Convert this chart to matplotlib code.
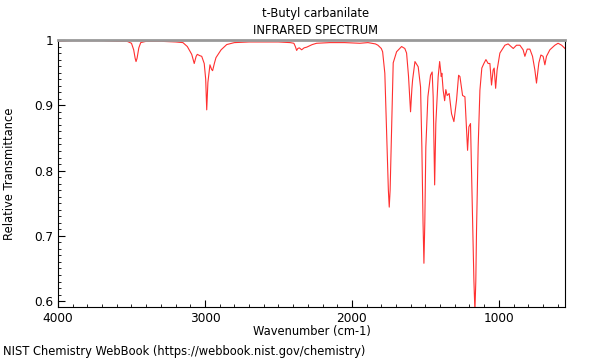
#!/usr/bin/env python3
"""IR spectrum of t-Butyl carbanilate, NIST WebBook style."""
import matplotlib
matplotlib.use("Agg")
import matplotlib.pyplot as plt
from matplotlib.ticker import MultipleLocator, FormatStrFormatter

wavenumber = [
    4000, 3900, 3800, 3700, 3600, 3530, 3500, 3485, 3475, 3469, 3462, 3450, 3437,
    3400, 3300, 3200, 3150, 3120, 3090, 3073, 3060, 3052, 3035, 3022, 3005, 2995,
    2988, 2980, 2966, 2955, 2948, 2935, 2925, 2890, 2852, 2800, 2700, 2600, 2500,
    2420, 2395, 2385, 2376, 2368, 2358, 2342, 2325, 2308, 2270, 2240, 2150, 2050,
    1946, 1891, 1840, 1823, 1800, 1791, 1776, 1764, 1752, 1746, 1740, 1730, 1719,
    1696, 1662, 1640, 1628, 1615, 1601, 1592, 1587, 1571, 1549, 1533, 1524, 1516,
    1510, 1504, 1497, 1483, 1465, 1454, 1447, 1437, 1429, 1413, 1403, 1392, 1388,
    1379, 1369, 1361, 1352, 1338, 1322, 1306, 1288, 1274, 1265, 1247, 1231, 1220,
    1213, 1204, 1193, 1182, 1170, 1163, 1157, 1152, 1141, 1129, 1116, 1102, 1088,
    1073, 1061, 1050, 1039, 1032, 1022, 1012, 993, 959, 937, 902, 880, 857, 835,
    823, 807, 789, 771, 755, 744, 728, 714, 699, 687, 676, 653, 619, 597, 573, 550,
]
transmittance = [
    0.998, 0.999, 0.999, 0.999, 0.998, 0.998, 0.995, 0.985, 0.972, 0.967, 0.972, 0.988, 0.996,
    0.998, 0.998, 0.997, 0.996, 0.990, 0.978, 0.964, 0.975, 0.978, 0.976, 0.975, 0.964, 0.940,
    0.893, 0.935, 0.962, 0.955, 0.953, 0.965, 0.973, 0.985, 0.993, 0.996, 0.997, 0.997, 0.997,
    0.996, 0.995, 0.990, 0.984, 0.987, 0.988, 0.985, 0.988, 0.989, 0.993, 0.995, 0.996, 0.996,
    0.995, 0.996, 0.994, 0.992, 0.987, 0.982, 0.949, 0.862, 0.770, 0.744, 0.770, 0.862, 0.965,
    0.982, 0.990, 0.987, 0.980, 0.945, 0.890, 0.925, 0.939, 0.967, 0.959, 0.928, 0.836, 0.720,
    0.658, 0.720, 0.836, 0.913, 0.946, 0.951, 0.913, 0.778, 0.872, 0.944, 0.967, 0.944, 0.949,
    0.923, 0.907, 0.924, 0.915, 0.918, 0.887, 0.875, 0.908, 0.946, 0.944, 0.915, 0.913, 0.862,
    0.831, 0.867, 0.872, 0.760, 0.632, 0.585, 0.630, 0.709, 0.836, 0.923, 0.957, 0.964, 0.970,
    0.964, 0.964, 0.931, 0.954, 0.957, 0.926, 0.954, 0.980, 0.992, 0.994, 0.987, 0.992, 0.992, 0.985,
    0.975, 0.986, 0.986, 0.975, 0.954, 0.934, 0.965, 0.977, 0.975, 0.962, 0.975, 0.985, 0.992, 0.995, 0.992, 0.987,
]

FS = 8.3

fig = plt.figure(figsize=(6, 3.6), dpi=100)
ax = fig.add_axes([58 / 600, 1 - 307 / 360, 507 / 600, 267 / 360])

ax.plot(wavenumber, transmittance, color="#ff3030", linewidth=0.8)

ax.set_xlim(4000, 550)
ax.set_ylim(0.591, 1.0)

ax.xaxis.set_major_locator(MultipleLocator(1000))
ax.xaxis.set_minor_locator(MultipleLocator(100))
ax.yaxis.set_major_locator(MultipleLocator(0.1))
ax.yaxis.set_minor_locator(MultipleLocator(0.01))
ax.yaxis.set_major_formatter(FormatStrFormatter("%g"))

ax.tick_params(which="both", direction="in", top=False, right=False, labelsize=FS + 0.4)
ax.tick_params(which="major", length=5)
ax.tick_params(which="minor", length=2.5)

ax.spines["top"].set_color("#999999")
ax.spines["top"].set_linewidth(2)
for side in ("left", "bottom", "right"):
    ax.spines[side].set_linewidth(0.8)

ax.set_xlabel("Wavenumber (cm-1)", fontsize=FS)
ax.set_ylabel("Relative Transmittance", fontsize=FS)
ax.xaxis.set_label_coords(0.5, -(332 - 307) / 267)
ax.yaxis.set_label_coords((10 - 58) / 507, 0.5)
ax.xaxis.label.set_va("center")
ax.yaxis.label.set_va("center")

fig.text(316 / 600, 1 - 13 / 360, "t-Butyl carbanilate", ha="center", va="center", fontsize=FS)
fig.text(316 / 600, 1 - 30 / 360, "INFRARED SPECTRUM", ha="center", va="center", fontsize=FS)
fig.text(3 / 600, 1 - 352 / 360, "NIST Chemistry WebBook (https://webbook.nist.gov/chemistry)",
         ha="left", va="center", fontsize=FS)

fig.savefig("out.png", dpi=100)
